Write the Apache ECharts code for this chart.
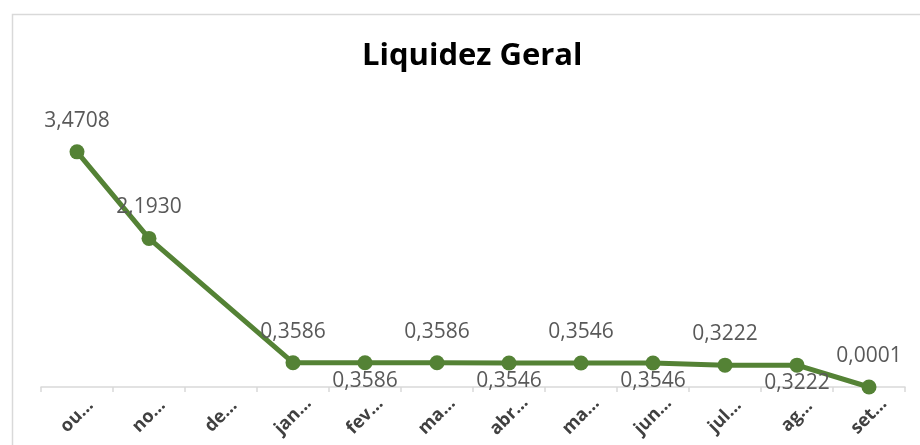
<!DOCTYPE html>
<html>
<head>
<meta charset="utf-8">
<script src="https://cdn.jsdelivr.net/npm/echarts@6/dist/echarts.min.js"></script>
<style>
  html, body { margin: 0; padding: 0; background: #fff; }
  #chart { width: 920px; height: 445px; }
</style>
</head>
<body>
<div id="chart"></div>
<script>
// meses (rótulos como aparecem truncados no gráfico)
const months = ['ou…', 'no…', 'de…', 'jan…', 'fev…', 'ma…', 'abr…', 'ma…', 'jun…', 'jul…', 'ag…', 'set…'];
// índice de liquidez geral (dezembro sem valor)
const liquidez = [3.4708, 2.1930, null, 0.3586, 0.3586, 0.3586, 0.3546, 0.3546, 0.3546, 0.3222, 0.3222, 0.0001];
// lado do rótulo de dado, como no Excel
const labelSide = ['top', 'top', null, 'top', 'bottom', 'top', 'bottom', 'top', 'bottom', 'top', 'bottom', 'top'];

const chart = echarts.init(document.getElementById('chart'), null, { renderer: 'canvas' });

const seriesData = liquidez.map(function (v, i) {
  if (v === null) return null;
  const below = labelSide[i] === 'bottom';
  return {
    value: v,
    label: {
      position: labelSide[i],
      distance: below ? 0 : 13
    }
  };
});

const option = {
  animation: false,
  graphic: [{
    type: 'rect',
    left: 10,
    top: 12,
    shape: { width: 1000, height: 1000 },
    style: { fill: 'none', stroke: '#d9d9d9', lineWidth: 1.5 },
    silent: true
  }],
  title: {
    text: 'Liquidez Geral',
    left: 357,
    top: 36,
    textStyle: {
      fontFamily: 'Open Sans',
      fontSize: 31,
      fontWeight: 'bold',
      color: '#000'
    }
  },
  grid: {
    left: 41,
    right: 15,
    top: 116,
    bottom: 58
  },
  xAxis: {
    type: 'category',
    data: months,
    boundaryGap: true,
    axisLine: { lineStyle: { color: '#d9d9d9', width: 1.5 } },
    axisTick: { show: true, length: 5, lineStyle: { color: '#d9d9d9', width: 1.5 } },
    axisLabel: {
      rotate: 45,
      margin: 29,
      interval: 0,
      align: 'center',
      verticalAlign: 'middle',
      fontFamily: 'Open Sans',
      fontSize: 18,
      fontWeight: 'bold',
      color: '#404040'
    }
  },
  yAxis: {
    type: 'value',
    min: 0,
    max: 4,
    show: false,
    splitLine: { show: false }
  },
  series: [{
    type: 'line',
    data: seriesData,
    connectNulls: true,
    symbol: 'circle',
    symbolSize: 15,
    lineStyle: { color: '#548235', width: 5 },
    itemStyle: { color: '#548235' },
    label: {
      show: true,
      fontFamily: 'Open Sans',
      fontSize: 21,
      color: '#595959',
      formatter: function (p) {
        return p.value.toFixed(4).replace('.', ',');
      }
    }
  }]
};

chart.setOption(option);
</script>
</body>
</html>
